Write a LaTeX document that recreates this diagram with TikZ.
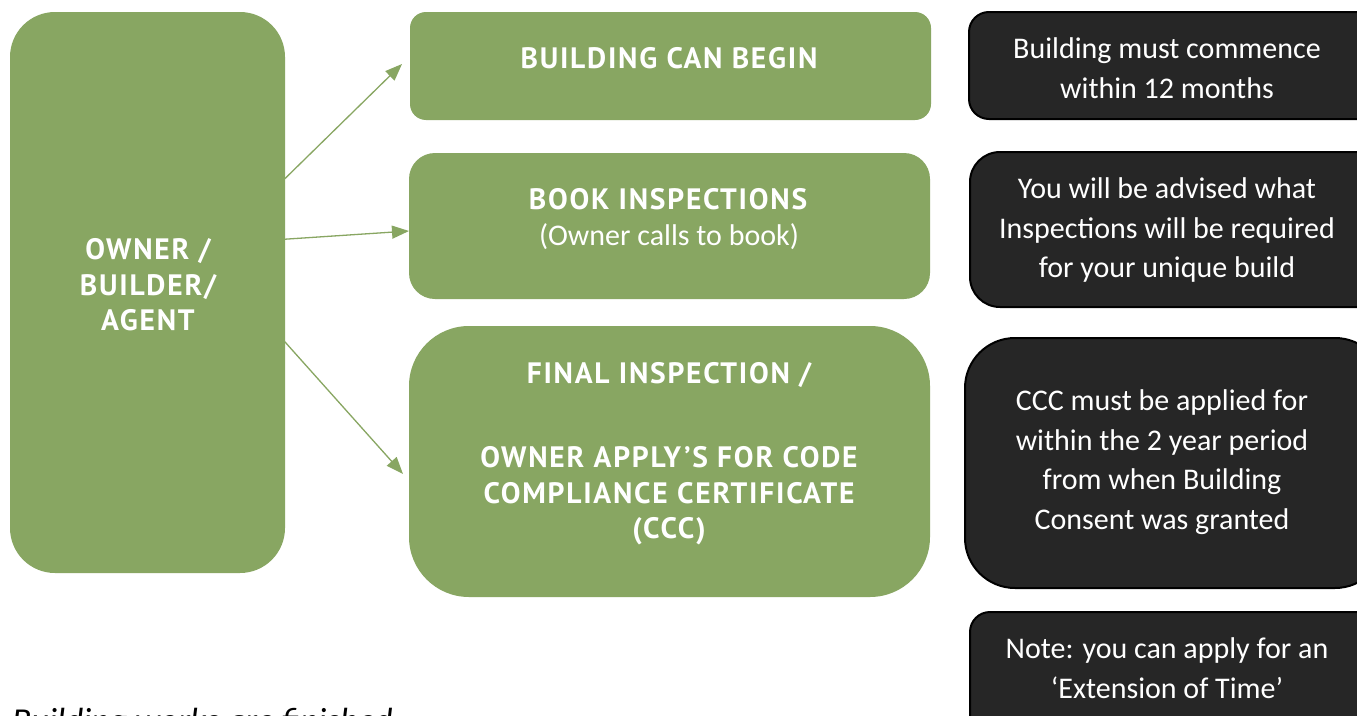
\documentclass[tikz,border=0pt]{standalone}
\usepackage{fontspec}
\setmainfont{Carlito}
\newfontfamily\headfont[LetterSpace=6]{PT Sans}
\usetikzlibrary{arrows.meta}
\definecolor{grn}{RGB}{136,166,98}
\definecolor{darkfill}{RGB}{38,38,38}
\tikzset{
  greenbox/.style={fill=grn, draw=none, rectangle, inner sep=0pt},
  darkbox/.style={fill=darkfill, draw=black, line width=2pt, rectangle, inner sep=0pt},
  conn/.style={draw=grn, line width=1.3pt, -{Triangle[length=17pt,width=13pt]}},
  headtxt/.style={text=white, align=center, inner sep=0pt, font=\headfont\bfseries\fontsize{29.5}{35.5}\selectfont},
  subtxt/.style={text=white, align=center, inner sep=0pt, font=\fontsize{30}{38}\selectfont},
  bodytxt/.style={text=white, align=center, inner sep=0pt, font=\fontsize{30}{39.5}\selectfont},
}
\begin{document}
\begin{tikzpicture}[x=1pt,y=-1pt]
\useasboundingbox (0,0) rectangle (1357,715);
\clip (0,0) rectangle (1357,715);
\fill[white] (0,0) rectangle (1357,715);

% left box
\node[greenbox, minimum width=275pt, minimum height=561pt, rounded corners=45pt] (owner) at (147.5,292.5) {};
\node[headtxt] (ownertxt) at (148,285) {OWNER /\\BUILDER/\\AGENT};

% green boxes
\node[greenbox, minimum width=521pt, minimum height=108pt, rounded corners=16pt] (begin) at (670.5,66) {};
\node[headtxt] (begintxt) at (669,58) {BUILDING CAN BEGIN};

\node[greenbox, minimum width=521pt, minimum height=146pt, rounded corners=26pt] (book) at (669.5,226) {};
\node[headtxt] (booktxt) at (668,199) {BOOK INSPECTIONS};
\node[subtxt] (booksub) at (669,237) {(Owner calls to book)};

\node[greenbox, minimum width=521pt, minimum height=271pt, rounded corners=60pt] (final) at (669.5,461.5) {};
\node[headtxt] (finaltxt1) at (669,375) {FINAL INSPECTION /};
\node[headtxt] (finaltxt2) at (669,496) {OWNER APPLY’S FOR CODE\\COMPLIANCE CERTIFICATE\\(CCC)};

% dark boxes
\node[darkbox, minimum width=420pt, minimum height=107pt, rounded corners=20pt] (d1) at (1179,65.5) {};
\node[bodytxt] (d1t) at (1167,68) {Building must commence\\within 12 months};

\node[darkbox, minimum width=420pt, minimum height=155pt, rounded corners=30pt] (d2) at (1180,229.5) {};
\node[bodytxt] (d2t) at (1167,230) {You will be advised what\\Inspections will be required\\for your unique build};

\node[darkbox, minimum width=420pt, minimum height=250pt, rounded corners=50pt] (d3) at (1175,463) {};
\node[bodytxt] (d3t) at (1162,462) {CCC must be applied for\\within the 2 year period\\from when Building\\Consent was granted};

\node[darkbox, minimum width=420pt, minimum height=140pt, rounded corners=20pt] (d4) at (1180,682) {};
\node[bodytxt] (d4t) at (1167,668) {Note: you can apply for an\\‘Extension of Time’};

% bottom text (cut off at the lower edge, as in the reference)
\node[anchor=base west, inner sep=0pt, font=\itshape\fontsize{35}{40}\selectfont] (finished) at (12,732) {Building works are finished};

% connectors
\coordinate (s1) at (258,205);
\coordinate (e1) at (402,64);
\coordinate (s2) at (273,240);
\coordinate (e2) at (409,231);
\coordinate (s3) at (277,333);
\coordinate (e3) at (403,474);
\draw[conn] (s1) -- (e1);
\draw[conn] (s2) -- (e2);
\draw[conn] (s3) -- (e3);
\end{tikzpicture}
\end{document}
